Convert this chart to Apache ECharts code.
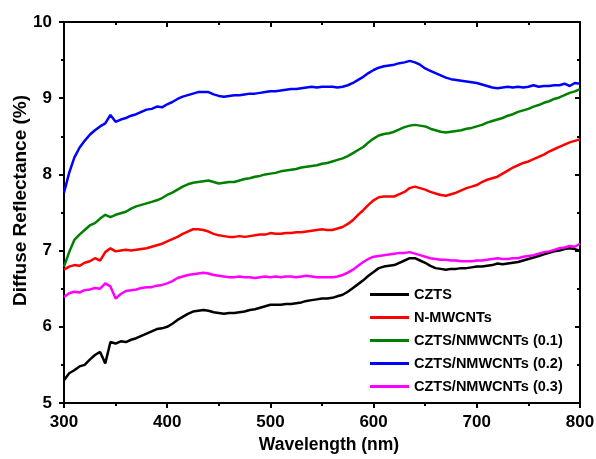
<!DOCTYPE html>
<html>
<head>
<meta charset="utf-8">
<script src="https://cdn.jsdelivr.net/npm/echarts@6/dist/echarts.min.js"></script>
<style>
  html, body { margin: 0; padding: 0; background: #fff; }
  #chart { width: 596px; height: 459px; }
</style>
</head>
<body>
<div id="chart"></div>
<script>
// wavelength (nm)
var wavelength = [
  300, 305, 310, 315, 320, 325, 330, 335, 340, 345, 350, 355, 360, 365, 370, 375, 380, 385, 390, 395,
  400, 405, 410, 415, 420, 425, 430, 435, 440, 445, 450, 455, 460, 465, 470, 475, 480, 485, 490, 495,
  500, 505, 510, 515, 520, 525, 530, 535, 540, 545, 550, 555, 560, 565, 570, 575, 580, 585, 590, 595,
  600, 605, 610, 615, 620, 625, 630, 635, 640, 645, 650, 655, 660, 665, 670, 675, 680, 685, 690, 695,
  700, 705, 710, 715, 720, 725, 730, 735, 740, 745, 750, 755, 760, 765, 770, 775, 780, 785, 790, 795,
  800
];

var seriesNames = ["CZTS", "N-MWCNTs", "CZTS/NMWCNTs (0.1)", "CZTS/NMWCNTs (0.2)", "CZTS/NMWCNTs (0.3)"];

var czts = [
  5.30, 5.39, 5.43, 5.48, 5.50, 5.57, 5.63, 5.67, 5.52, 5.80, 5.78, 5.81, 5.80, 5.83, 5.85, 5.88, 5.91, 5.94, 5.97, 5.98,
  6.00, 6.04, 6.09, 6.13, 6.17, 6.20, 6.21, 6.22, 6.21, 6.19, 6.18, 6.17, 6.18, 6.18, 6.19, 6.20, 6.22, 6.23, 6.25, 6.27,
  6.29, 6.29, 6.29, 6.30, 6.30, 6.31, 6.32, 6.34, 6.35, 6.36, 6.37, 6.37, 6.38, 6.40, 6.42, 6.46, 6.51, 6.56, 6.61, 6.67,
  6.72, 6.77, 6.79, 6.80, 6.81, 6.84, 6.87, 6.90, 6.90, 6.87, 6.84, 6.80, 6.77, 6.76, 6.75, 6.76, 6.76, 6.77, 6.77, 6.78,
  6.79, 6.79, 6.80, 6.81, 6.83, 6.82, 6.83, 6.84, 6.85, 6.87, 6.89, 6.91, 6.93, 6.95, 6.97, 6.99, 7.00, 7.02, 7.03, 7.02,
  7.00
];

var nmwcnts = [
  6.75, 6.79, 6.81, 6.80, 6.84, 6.86, 6.90, 6.87, 6.98, 7.03, 6.99, 7.00, 7.01, 7.00, 7.01, 7.02, 7.03, 7.05, 7.07, 7.09,
  7.12, 7.15, 7.18, 7.22, 7.25, 7.28, 7.28, 7.27, 7.25, 7.22, 7.20, 7.19, 7.18, 7.18, 7.19, 7.18, 7.19, 7.20, 7.21, 7.21,
  7.23, 7.22, 7.22, 7.23, 7.23, 7.24, 7.24, 7.25, 7.26, 7.27, 7.28, 7.27, 7.27, 7.29, 7.31, 7.35, 7.40, 7.47, 7.53, 7.60,
  7.66, 7.70, 7.71, 7.71, 7.71, 7.74, 7.77, 7.82, 7.84, 7.82, 7.80, 7.77, 7.75, 7.73, 7.72, 7.74, 7.76, 7.79, 7.82, 7.84,
  7.86, 7.90, 7.93, 7.95, 7.97, 8.01, 8.05, 8.09, 8.12, 8.15, 8.17, 8.20, 8.23, 8.26, 8.30, 8.33, 8.36, 8.39, 8.42, 8.44,
  8.46
];

var mix01 = [
  6.79, 6.98, 7.14, 7.21, 7.27, 7.33, 7.36, 7.42, 7.47, 7.44, 7.47, 7.49, 7.51, 7.55, 7.58, 7.60, 7.62, 7.64, 7.66, 7.69,
  7.73, 7.76, 7.80, 7.84, 7.87, 7.89, 7.90, 7.91, 7.92, 7.90, 7.88, 7.89, 7.90, 7.90, 7.92, 7.94, 7.95, 7.97, 7.98, 8.00,
  8.01, 8.02, 8.04, 8.05, 8.06, 8.07, 8.09, 8.10, 8.11, 8.12, 8.14, 8.15, 8.17, 8.19, 8.21, 8.24, 8.28, 8.32, 8.36, 8.42,
  8.47, 8.51, 8.53, 8.54, 8.56, 8.59, 8.62, 8.64, 8.65, 8.64, 8.63, 8.60, 8.58, 8.56, 8.55, 8.56, 8.57, 8.58, 8.60, 8.61,
  8.63, 8.65, 8.68, 8.70, 8.72, 8.74, 8.77, 8.79, 8.82, 8.84, 8.86, 8.89, 8.91, 8.94, 8.96, 8.99, 9.01, 9.04, 9.07, 9.09,
  9.12
];

var mix02 = [
  7.76, 8.02, 8.22, 8.35, 8.44, 8.52, 8.58, 8.63, 8.67, 8.78, 8.69, 8.72, 8.74, 8.77, 8.79, 8.82, 8.85, 8.86, 8.89, 8.88,
  8.92, 8.95, 8.99, 9.02, 9.04, 9.06, 9.08, 9.08, 9.08, 9.05, 9.03, 9.02, 9.03, 9.04, 9.04, 9.05, 9.06, 9.06, 9.07, 9.08,
  9.09, 9.09, 9.10, 9.11, 9.12, 9.12, 9.13, 9.14, 9.15, 9.14, 9.15, 9.15, 9.15, 9.14, 9.15, 9.17, 9.20, 9.24, 9.28, 9.33,
  9.37, 9.40, 9.42, 9.43, 9.44, 9.46, 9.47, 9.49, 9.47, 9.44, 9.39, 9.36, 9.33, 9.30, 9.27, 9.25, 9.24, 9.23, 9.22, 9.21,
  9.20, 9.18, 9.16, 9.14, 9.13, 9.14, 9.15, 9.14, 9.15, 9.14, 9.15, 9.17, 9.15, 9.16, 9.16, 9.17, 9.17, 9.19, 9.16, 9.20,
  9.19
];

var mix03 = [
  6.39, 6.44, 6.46, 6.45, 6.48, 6.49, 6.51, 6.50, 6.57, 6.53, 6.37, 6.43, 6.47, 6.48, 6.49, 6.51, 6.52, 6.52, 6.54, 6.55,
  6.57, 6.60, 6.64, 6.66, 6.68, 6.69, 6.70, 6.71, 6.70, 6.68, 6.67, 6.66, 6.65, 6.65, 6.66, 6.65, 6.65, 6.64, 6.65, 6.66,
  6.65, 6.66, 6.65, 6.66, 6.66, 6.65, 6.66, 6.67, 6.66, 6.65, 6.65, 6.65, 6.65, 6.66, 6.68, 6.71, 6.75, 6.80, 6.85, 6.89,
  6.92, 6.93, 6.94, 6.95, 6.96, 6.97, 6.97, 6.98, 6.96, 6.94, 6.92, 6.90, 6.89, 6.88, 6.88, 6.87, 6.87, 6.86, 6.86, 6.86,
  6.87, 6.87, 6.88, 6.89, 6.90, 6.89, 6.89, 6.90, 6.90, 6.92, 6.93, 6.94, 6.96, 6.98, 6.99, 7.01, 7.03, 7.04, 7.06, 7.05,
  7.09
];

var seriesValues = [czts, nmwcnts, mix01, mix02, mix03];
var colors = ["#000000", "#ff0000", "#008000", "#0000ff", "#ff00ff"];

var font = "'Liberation Sans', Arial, sans-serif";

function pairs(values) {
  return wavelength.map(function (w, i) {
    return [w, values[i]];
  });
}

var chart = echarts.init(document.getElementById("chart"), null, { renderer: "canvas" });

// 外框: top / right axes only draw inward ticks
var frameLine = { show: true, lineStyle: { color: "#000", width: 2 } };
var tickStyle = { width: 2, color: "#000" };

var option = {
  animation: false,
  color: colors,
  grid: { left: 64, right: 16, top: 22, bottom: 56, containLabel: false, outerBoundsMode: "none" },
  legend: {
    orient: "vertical",
    left: 365,
    top: 281,
    padding: 5,
    icon: "rect",
    itemWidth: 39,
    itemHeight: 3,
    itemGap: 6,
    textStyle: { fontFamily: font, fontSize: 14.5, fontWeight: "bold", color: "#000", lineHeight: 17 },
    data: seriesNames,
  },
  xAxis: [
    {
      type: "value",
      min: 300,
      max: 800,
      interval: 100,
      name: "Wavelength (nm)",
      nameLocation: "middle",
      nameGap: 33,
      nameMoveOverlap: false,
      nameTextStyle: { fontFamily: font, fontSize: 17.5, fontWeight: "bold", color: "#000", padding: [0, 0, 0, 14] },
      axisLine: frameLine,
      axisTick: { show: true, inside: false, length: 5, lineStyle: tickStyle },
      minorTick: { show: true, splitNumber: 2, length: 3, lineStyle: tickStyle },
      axisLabel: { margin: 11, fontFamily: font, fontSize: 17, fontWeight: "bold", color: "#000" },
      splitLine: { show: false },
    },
    {
      type: "value",
      position: "top",
      min: 300,
      max: 800,
      interval: 100,
      axisLine: frameLine,
      axisTick: { show: true, inside: true, length: 5, lineStyle: tickStyle },
      minorTick: { show: true, splitNumber: 2, length: 3, lineStyle: tickStyle },
      axisLabel: { show: false },
      splitLine: { show: false },
    },
  ],
  yAxis: [
    {
      type: "value",
      min: 5,
      max: 10,
      interval: 1,
      name: "Diffuse Reflectance (%)",
      nameLocation: "middle",
      nameGap: 34,
      nameMoveOverlap: false,
      nameTextStyle: { fontFamily: font, fontSize: 19, fontWeight: "bold", color: "#000", padding: [0, 0, 0, 24] },
      axisLine: frameLine,
      axisTick: { show: true, inside: false, length: 5, lineStyle: tickStyle },
      minorTick: { show: true, splitNumber: 2, length: 3, lineStyle: tickStyle },
      axisLabel: { margin: 12, fontFamily: font, fontSize: 17, fontWeight: "bold", color: "#000" },
      splitLine: { show: false },
    },
    {
      type: "value",
      position: "right",
      min: 5,
      max: 10,
      interval: 1,
      axisLine: frameLine,
      axisTick: { show: true, inside: true, length: 5, lineStyle: tickStyle },
      minorTick: { show: true, splitNumber: 2, length: 3, lineStyle: tickStyle },
      axisLabel: { show: false },
      splitLine: { show: false },
    },
  ],
  series: seriesNames.map(function (name, i) {
    return {
      name: name,
      type: "line",
      symbol: "none",
      data: pairs(seriesValues[i]),
      lineStyle: { width: 2.5, color: colors[i] },
    };
  }),
};

chart.setOption(option);
</script>
</body>
</html>
